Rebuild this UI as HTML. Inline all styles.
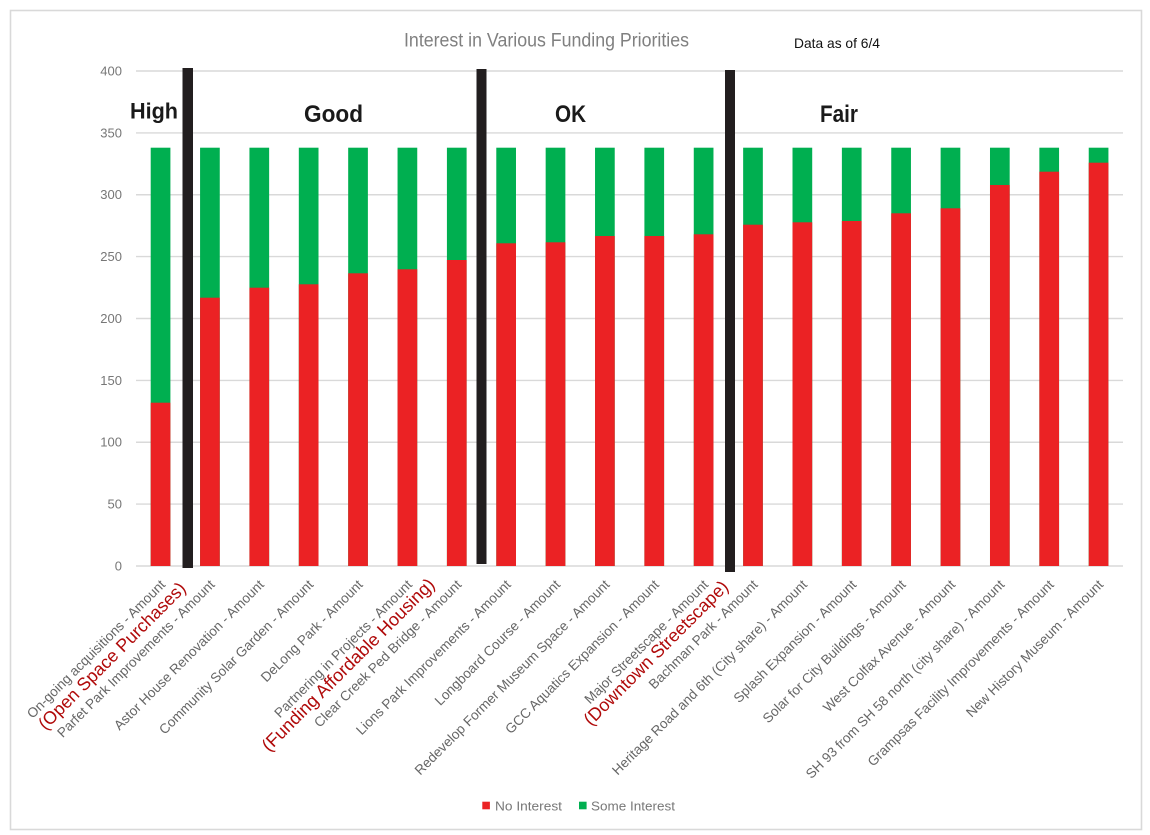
<!DOCTYPE html>
<html>
<head>
<meta charset="utf-8">
<style>
  html,body{margin:0;padding:0;background:#fff;}
  svg{display:block;}
  .cat{font-family:"Liberation Sans",sans-serif;font-size:13.6px;fill:#666;}
  .ax{font-family:"Liberation Sans",sans-serif;font-size:13px;fill:#777;}
  .ann{font-family:"Liberation Sans",sans-serif;font-size:18px;fill:#b00a0a;}
  .sec{font-family:"Liberation Sans",sans-serif;font-weight:bold;fill:#1a1a1a;}
</style>
</head>
<body>
<svg width="1150" height="835" viewBox="0 0 1150 835" xmlns="http://www.w3.org/2000/svg">
  <rect x="0" y="0" width="1150" height="835" fill="#fff"/>
  <rect x="10.5" y="10.5" width="1131" height="819" fill="#fff" stroke="#d9d9d9" stroke-width="1.6"/>

  <!-- title -->
  <text x="404" y="46.5" textLength="285" lengthAdjust="spacingAndGlyphs" font-family="Liberation Sans, sans-serif" font-size="19" fill="#808080">Interest in Various Funding Priorities</text>
  <text x="794" y="48" textLength="86" lengthAdjust="spacingAndGlyphs" font-family="Liberation Sans, sans-serif" font-size="14" fill="#111">Data as of 6/4</text>

  <!-- gridlines -->
  <g stroke="#d9d9d9" stroke-width="1.4">
    <line x1="136" y1="71" x2="1123" y2="71"/>
    <line x1="136" y1="132.9" x2="1123" y2="132.9"/>
    <line x1="136" y1="194.75" x2="1123" y2="194.75"/>
    <line x1="136" y1="256.6" x2="1123" y2="256.6"/>
    <line x1="136" y1="318.5" x2="1123" y2="318.5"/>
    <line x1="136" y1="380.4" x2="1123" y2="380.4"/>
    <line x1="136" y1="442.25" x2="1123" y2="442.25"/>
    <line x1="136" y1="504.1" x2="1123" y2="504.1"/>
    <line x1="136" y1="566" x2="1123" y2="566"/>
  </g>

  <!-- y axis labels -->
  <g class="ax" text-anchor="end">
    <text x="122" y="75.5">400</text>
    <text x="122" y="137.4">350</text>
    <text x="122" y="199.2">300</text>
    <text x="122" y="261.1">250</text>
    <text x="122" y="323">200</text>
    <text x="122" y="384.9">150</text>
    <text x="122" y="446.7">100</text>
    <text x="122" y="508.6">50</text>
    <text x="122" y="570.5">0</text>
  </g>

  <!-- bars: green (total) then red -->
  <g fill="#00af50">
    <rect x="150.7" y="147.7" width="19.7" height="418.3"/>
    <rect x="200.07" y="147.7" width="19.7" height="418.3"/>
    <rect x="249.44" y="147.7" width="19.7" height="418.3"/>
    <rect x="298.81" y="147.7" width="19.7" height="418.3"/>
    <rect x="348.18" y="147.7" width="19.7" height="418.3"/>
    <rect x="397.55" y="147.7" width="19.7" height="418.3"/>
    <rect x="446.92" y="147.7" width="19.7" height="418.3"/>
    <rect x="496.29" y="147.7" width="19.7" height="418.3"/>
    <rect x="545.66" y="147.7" width="19.7" height="418.3"/>
    <rect x="595.03" y="147.7" width="19.7" height="418.3"/>
    <rect x="644.4" y="147.7" width="19.7" height="418.3"/>
    <rect x="693.77" y="147.7" width="19.7" height="418.3"/>
    <rect x="743.14" y="147.7" width="19.7" height="418.3"/>
    <rect x="792.51" y="147.7" width="19.7" height="418.3"/>
    <rect x="841.88" y="147.7" width="19.7" height="418.3"/>
    <rect x="891.25" y="147.7" width="19.7" height="418.3"/>
    <rect x="940.62" y="147.7" width="19.7" height="418.3"/>
    <rect x="989.99" y="147.7" width="19.7" height="418.3"/>
    <rect x="1039.36" y="147.7" width="19.7" height="418.3"/>
    <rect x="1088.73" y="147.7" width="19.7" height="418.3"/>
  </g>
  <g fill="#eb2224">
    <rect x="150.7" y="402.7" width="19.7" height="163.3"/>
    <rect x="200.07" y="297.7" width="19.7" height="268.3"/>
    <rect x="249.44" y="287.7" width="19.7" height="278.3"/>
    <rect x="298.81" y="284.3" width="19.7" height="281.7"/>
    <rect x="348.18" y="273.3" width="19.7" height="292.7"/>
    <rect x="397.55" y="269.3" width="19.7" height="296.7"/>
    <rect x="446.92" y="260" width="19.7" height="306"/>
    <rect x="496.29" y="243.3" width="19.7" height="322.7"/>
    <rect x="545.66" y="242.3" width="19.7" height="323.7"/>
    <rect x="595.03" y="236" width="19.7" height="330"/>
    <rect x="644.4" y="236" width="19.7" height="330"/>
    <rect x="693.77" y="234.3" width="19.7" height="331.7"/>
    <rect x="743.14" y="224.7" width="19.7" height="341.3"/>
    <rect x="792.51" y="222.3" width="19.7" height="343.7"/>
    <rect x="841.88" y="221" width="19.7" height="345"/>
    <rect x="891.25" y="213.3" width="19.7" height="352.7"/>
    <rect x="940.62" y="208.3" width="19.7" height="357.7"/>
    <rect x="989.99" y="185" width="19.7" height="381"/>
    <rect x="1039.36" y="171.7" width="19.7" height="394.3"/>
    <rect x="1088.73" y="162.7" width="19.7" height="403.3"/>
  </g>

  <!-- divider lines -->
  <g fill="#221e1f">
    <rect x="182.5" y="68" width="10.5" height="500"/>
    <rect x="476.5" y="69" width="10" height="495"/>
    <rect x="725" y="70" width="10" height="502"/>
  </g>

  <!-- section labels -->
  <text class="sec" x="130" y="118.3" font-size="22" textLength="48" lengthAdjust="spacingAndGlyphs">High</text>
  <text class="sec" x="304" y="122" font-size="24" textLength="59" lengthAdjust="spacingAndGlyphs">Good</text>
  <text class="sec" x="555" y="122" font-size="24" textLength="31" lengthAdjust="spacingAndGlyphs">OK</text>
  <text class="sec" x="820" y="122" font-size="24" textLength="38" lengthAdjust="spacingAndGlyphs">Fair</text>

  <!-- category labels -->
  <g class="cat" text-anchor="end">
    <text x="166.1" y="585.5" transform="rotate(-45 166.1 585.5)">On-going acquisitions - Amount</text>
    <text x="215.5" y="585.5" transform="rotate(-45 215.5 585.5)">Parfet Park Improvements - Amount</text>
    <text x="264.8" y="585.5" transform="rotate(-45 264.8 585.5)">Astor House Renovation - Amount</text>
    <text x="314.2" y="585.5" transform="rotate(-45 314.2 585.5)">Community Solar Garden - Amount</text>
    <text x="363.6" y="585.5" transform="rotate(-45 363.6 585.5)">DeLong Park - Amount</text>
    <text x="412.9" y="585.5" transform="rotate(-45 412.9 585.5)">Partnering in Projects - Amount</text>
    <text x="462.3" y="585.5" transform="rotate(-45 462.3 585.5)">Clear Creek Ped Bridge - Amount</text>
    <text x="511.7" y="585.5" transform="rotate(-45 511.7 585.5)">Lions Park Improvements - Amount</text>
    <text x="561.0" y="585.5" transform="rotate(-45 561.0 585.5)">Longboard Course - Amount</text>
    <text x="610.4" y="585.5" transform="rotate(-45 610.4 585.5)">Redevelop Former Museum Space - Amount</text>
    <text x="659.8" y="585.5" transform="rotate(-45 659.8 585.5)">GCC Aquatics Expansion - Amount</text>
    <text x="709.1" y="585.5" transform="rotate(-45 709.1 585.5)">Major Streetscape - Amount</text>
    <text x="758.5" y="585.5" transform="rotate(-45 758.5 585.5)">Bachman Park - Amount</text>
    <text x="807.9" y="585.5" transform="rotate(-45 807.9 585.5)">Heritage Road and 6th (City share) - Amount</text>
    <text x="857.2" y="585.5" transform="rotate(-45 857.2 585.5)">Splash Expansion - Amount</text>
    <text x="906.6" y="585.5" transform="rotate(-45 906.6 585.5)">Solar for City Buildings - Amount</text>
    <text x="956.0" y="585.5" transform="rotate(-45 956.0 585.5)">West Colfax Avenue - Amount</text>
    <text x="1005.3" y="585.5" transform="rotate(-45 1005.3 585.5)">SH 93 from SH 58 north (city share) - Amount</text>
    <text x="1054.7" y="585.5" transform="rotate(-45 1054.7 585.5)">Grampsas Facility Improvements - Amount</text>
    <text x="1104.1" y="585.5" transform="rotate(-45 1104.1 585.5)">New History Museum - Amount</text>
  </g>

  <!-- red annotations -->
  <g class="ann" text-anchor="middle">
    <text x="116.2" y="660.2" transform="rotate(-45 116.2 660.2)" textLength="200" lengthAdjust="spacingAndGlyphs">(Open Space Purchases)</text>
    <text x="352.4" y="669" transform="rotate(-45 352.4 669)" textLength="236" lengthAdjust="spacingAndGlyphs">(Funding Affordable Housing)</text>
    <text x="660.2" y="657.2" transform="rotate(-45 660.2 657.2)" textLength="196" lengthAdjust="spacingAndGlyphs">(Downtown Streetscape)</text>
  </g>

  <!-- legend -->
  <rect x="482.3" y="801.7" width="7.6" height="7.6" fill="#eb2224"/>
  <text x="495" y="810.3" textLength="67" lengthAdjust="spacingAndGlyphs" font-family="Liberation Sans, sans-serif" font-size="13" fill="#777">No Interest</text>
  <rect x="579" y="801.7" width="7.6" height="7.6" fill="#00af50"/>
  <text x="591" y="810.3" textLength="84" lengthAdjust="spacingAndGlyphs" font-family="Liberation Sans, sans-serif" font-size="13" fill="#777">Some Interest</text>
</svg>
</body>
</html>
